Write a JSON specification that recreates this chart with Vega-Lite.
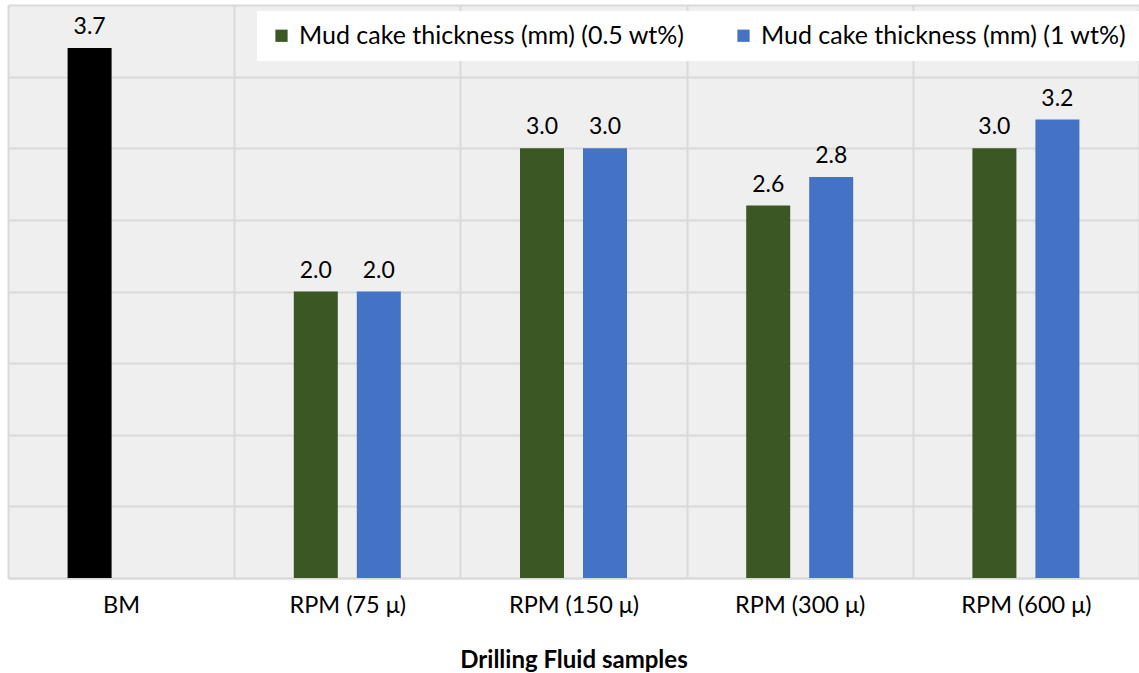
{
  "$schema": "https://vega.github.io/schema/vega-lite/v6.json",
  "width": 1131,
  "height": 573,
  "autosize": {"type": "none"},
  "padding": {"left": 8, "top": 5, "right": 0, "bottom": 95},
  "background": "white",
  "config": {
    "font": "Lato",
    "view": {"stroke": null, "fill": "#efefef"}
  },
  "data": {
    "values": [
      {"sample": "BM", "slot": "a", "series": "BM", "value": 3.7},
      {"sample": "RPM (75 μ)", "slot": "a", "series": "Mud cake thickness (mm) (0.5 wt%)", "value": 2.0},
      {"sample": "RPM (75 μ)", "slot": "b", "series": "Mud cake thickness (mm) (1 wt%)", "value": 2.0},
      {"sample": "RPM (150 μ)", "slot": "a", "series": "Mud cake thickness (mm) (0.5 wt%)", "value": 3.0},
      {"sample": "RPM (150 μ)", "slot": "b", "series": "Mud cake thickness (mm) (1 wt%)", "value": 3.0},
      {"sample": "RPM (300 μ)", "slot": "a", "series": "Mud cake thickness (mm) (0.5 wt%)", "value": 2.6},
      {"sample": "RPM (300 μ)", "slot": "b", "series": "Mud cake thickness (mm) (1 wt%)", "value": 2.8},
      {"sample": "RPM (600 μ)", "slot": "a", "series": "Mud cake thickness (mm) (0.5 wt%)", "value": 3.0},
      {"sample": "RPM (600 μ)", "slot": "b", "series": "Mud cake thickness (mm) (1 wt%)", "value": 3.2}
    ]
  },
  "encoding": {
    "x": {
      "field": "sample",
      "type": "nominal",
      "sort": null,
      "scale": {"paddingInner": 0, "paddingOuter": 0},
      "axis": {
        "title": "Drilling Fluid samples",
        "titleFont": "Lato",
        "titleFontSize": 24,
        "titleFontWeight": "bold",
        "titleColor": "#000000",
        "titlePadding": 32,
        "labelAngle": 0,
        "labelFontSize": 23.5,
        "labelColor": "#000000",
        "labelPadding": 15,
        "ticks": false,
        "grid": true,
        "tickBand": "extent",
        "gridColor": "#d9d9d9",
        "gridWidth": 2,
        "domainColor": "#d9d9d9",
        "domainWidth": 2
      }
    },
    "xOffset": {
      "field": "slot",
      "type": "nominal",
      "scale": {"domain": ["a", "b"], "paddingInner": 0.3016, "paddingOuter": 0.946}
    },
    "y": {
      "field": "value",
      "type": "quantitative",
      "scale": {"domain": [0, 4], "nice": false},
      "axis": {
        "title": null,
        "labels": false,
        "ticks": false,
        "domain": false,
        "values": [0, 0.5, 1, 1.5, 2, 2.5, 3, 3.5, 4],
        "gridColor": "#d9d9d9",
        "gridWidth": 2
      }
    }
  },
  "layer": [
    {
      "mark": {"type": "bar"},
      "encoding": {
        "color": {
          "field": "series",
          "type": "nominal",
          "scale": {
            "domain": ["Mud cake thickness (mm) (0.5 wt%)", "Mud cake thickness (mm) (1 wt%)", "BM"],
            "range": ["#3a5724", "#4472c4", "#000000"]
          },
          "legend": {
            "values": ["Mud cake thickness (mm) (0.5 wt%)", "Mud cake thickness (mm) (1 wt%)"],
            "title": null,
            "orient": "none",
            "legendX": 249,
            "legendY": 6,
            "direction": "horizontal",
            "fillColor": "white",
            "padding": 12,
            "symbolType": "square",
            "symbolSize": 150,
            "symbolStrokeWidth": 0,
            "symbolOpacity": 1,
            "labelFontSize": 25,
            "labelColor": "#000000",
            "labelOffset": 5,
            "labelLimit": 600,
            "columnPadding": 46
          }
        }
      }
    },
    {
      "mark": {"type": "text", "baseline": "bottom", "dy": -9, "fontSize": 23, "color": "#000000"},
      "encoding": {
        "text": {"field": "value", "type": "quantitative", "format": ".1f"}
      }
    }
  ]
}
